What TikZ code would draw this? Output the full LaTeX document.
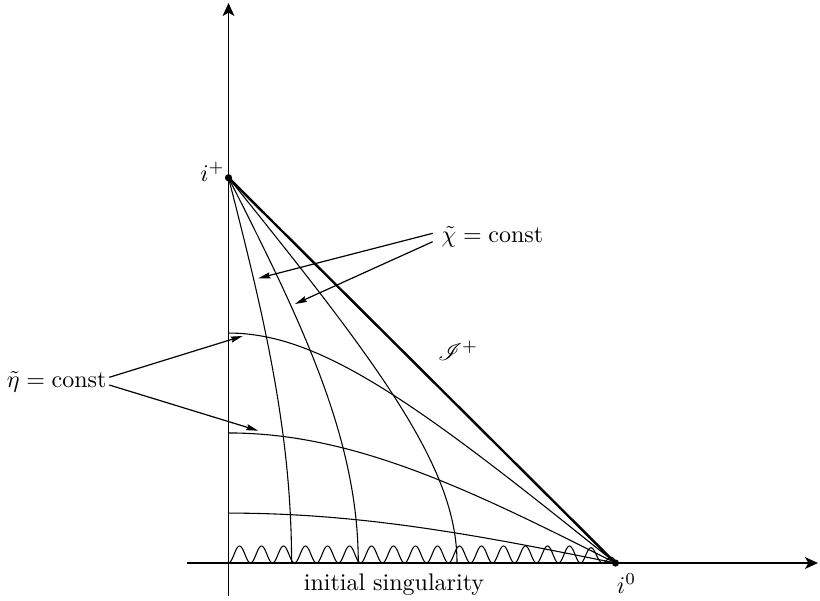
\documentclass[tikz,border=0pt]{standalone}
\usepackage{amsmath}
\usepackage{mathrsfs}
\usetikzlibrary{arrows.meta}
\begin{document}
\begin{tikzpicture}[x=0.4167pt,y=-0.4167pt,
  axisline/.style={line width=0.7pt,-{Stealth[length=5.4pt,width=4.9pt,inset=1.4pt]}},
  gridcurve/.style={line width=0.45pt},
  scriline/.style={line width=1.0pt},
  pointer/.style={line width=0.5pt,-{Stealth[length=5pt,width=2.5pt,inset=0.6pt]}},
  lab/.style={inner sep=0pt},
  declare function={
    Tf(\p,\q)=(atan(sinh(\p+\q))+atan(sinh(\p-\q)))/2*pi/180;
    Rf(\p,\q)=(atan(sinh(\p+\q))-atan(sinh(\p-\q)))/2*pi/180;
  }]
\useasboundingbox (0,0) rectangle (820,600);
% key points
\coordinate (O) at (228.5,563);
\coordinate (iplus) at (228.5,177.7);
\coordinate (izero) at (615.5,563);
\coordinate (vbot) at (228.5,596);
\coordinate (vtop) at (228.5,3);
\coordinate (hleft) at (187,563);
\coordinate (hright) at (818,563);
% initial singularity wave
\draw[gridcurve] plot[domain=228.5:615.5, samples=520, variable=\s]
  (\s, {563 - 17*min(1,sqrt(max(0,(615.5-\s)/30)))*(1-cos(16.3636*(\s-228.5)))/2});
% chi = const curves
\foreach \cc in {0.259,0.553,1.099}{
  \draw[gridcurve] plot[domain=0:5, samples=160, variable=\t]
    ({228.5+246.4*Rf(\t,\cc)}, {563-245.3*Tf(\t,\cc)}) -- (iplus);
}
% eta = const curves
\foreach \ee in {0.205,0.557,1.116}{
  \draw[gridcurve] plot[domain=0:6.3, samples=160, variable=\t]
    ({228.5+246.4*Rf(\ee,\t)}, {563-245.3*Tf(\ee,\t)}) -- (izero);
}
% scri+
\draw[scriline] (iplus) -- (izero);
% axes
\draw[axisline] (vbot) -- (vtop);
\draw[axisline] (hleft) -- (hright);
% points
\fill (iplus) circle[radius=1.5pt];
\fill (izero) circle[radius=1.5pt];
% labels
\node[lab,anchor=base east] (lip) at (225,181) {$i^+$};
\node[lab,anchor=base west] (li0) at (616.5,593) {$i^0$};
\node[lab] (lscri) at (458,351) {$\mathscr{I}^+$};
\node[lab,anchor=base] (lsing) at (394,590) {initial singularity};
\node[lab,anchor=base west] (lchi) at (441,242.3) {$\tilde\chi = \mathrm{const}$};
\node[lab,anchor=base west] (leta) at (6.5,387.3) {$\tilde\eta = \mathrm{const}$};
% pointers
\coordinate (chiA) at (432.7,233.3);
\coordinate (chiB) at (432.7,241.7);
\coordinate (chiTA) at (258.3,278.3);
\coordinate (chiTB) at (295,304);
\coordinate (etaA) at (109.3,377.3);
\coordinate (etaB) at (109.3,385);
\coordinate (etaTA) at (242.7,336);
\coordinate (etaTB) at (258.3,430.7);
\draw[pointer] (chiA) -- (chiTA);
\draw[pointer] (chiB) -- (chiTB);
\draw[pointer] (etaA) -- (etaTA);
\draw[pointer] (etaB) -- (etaTB);
\end{tikzpicture}
\end{document}
